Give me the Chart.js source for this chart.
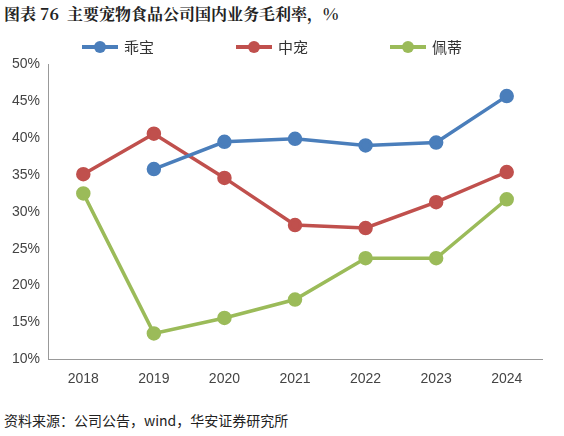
<!DOCTYPE html>
<html>
<head>
<meta charset="utf-8">
<script src="https://cdn.jsdelivr.net/npm/chart.js@4/dist/chart.umd.min.js"></script>
<style>
body { margin: 0; width: 564px; height: 436px; background: #fff; font-family: "Noto Sans CJK SC", sans-serif; }
#title { position: absolute; left: 4px; top: 2px; font-size: 16px; font-weight: bold; color: #222; font-family: "Noto Serif CJK SC", "Noto Sans CJK SC", serif; }
#box { position: absolute; left: 0; top: 48px; width: 560px; height: 352px; }
#legend { position: absolute; top: 36px; left: 0; width: 564px; height: 20px; font-size: 15px; color: #333; z-index: 2; }
.item { position: absolute; top: 0; display: flex; align-items: center; }
.sw { width: 36px; height: 4px; position: relative; margin-right: 6px; }
.sw::after { content: ""; position: absolute; left: 12px; top: -4px; width: 12px; height: 12px; border-radius: 50%; background: inherit; }
#source { position: absolute; left: 4px; top: 410px; font-size: 14px; color: #222; }
</style>
</head>
<body>
<div id="title">图表 76&nbsp; 主要宠物食品公司国内业务毛利率，%</div>
<div id="legend"></div>
<div id="box"><canvas id="chart"></canvas></div>
<div id="source">资料来源：公司公告，wind，华安证券研究所</div>
<script>
const years = ["2018", "2019", "2020", "2021", "2022", "2023", "2024"];
const guaibao = [null, 35.8, 39.5, 39.9, 39.0, 39.4, 45.7];
const zhongchong = [35.1, 40.6, 34.6, 28.2, 27.8, 31.3, 35.4];
const peidi = [32.5, 13.5, 15.6, 18.1, 23.7, 23.7, 31.7];

const series = [
    { label: "乖宝", data: guaibao, color: "#4a7ebb", x: 82 },
    { label: "中宠", data: zhongchong, color: "#c0504d", x: 236 },
    { label: "佩蒂", data: peidi, color: "#9bbb59", x: 390 }
];

const legend = document.getElementById("legend");
series.forEach(s => {
    const item = document.createElement("div");
    item.className = "item";
    item.style.left = s.x + "px";
    item.innerHTML = `<span class="sw" style="background:${s.color}"></span><span>${s.label}</span>`;
    legend.appendChild(item);
});

new Chart(document.getElementById("chart"), {
    type: "line",
    data: {
        labels: years,
        datasets: series.map(s => ({
            label: s.label, data: s.data,
            borderColor: s.color, backgroundColor: s.color,
            borderWidth: 3.5, pointRadius: 5.5, pointHoverRadius: 5.5
        }))
    },
    options: {
        responsive: true,
        maintainAspectRatio: false,
        animation: false,
        layout: { padding: { left: 4, right: 18, top: 0, bottom: 0 } },
        plugins: {
            legend: { display: false },
            tooltip: { enabled: false }
        },
        scales: {
            x: {
                offset: true,
                grid: { display: false, drawTicks: false },
                border: { color: "#999" },
                ticks: { font: { size: 14 }, color: "#444", padding: 12 }
            },
            y: {
                min: 10, max: 50,
                grid: { display: false, drawTicks: false },
                border: { color: "#999" },
                ticks: { stepSize: 5, callback: v => v + "%", font: { size: 14 }, color: "#444", padding: 8 }
            }
        }
    }
});
</script>
</body>
</html>
